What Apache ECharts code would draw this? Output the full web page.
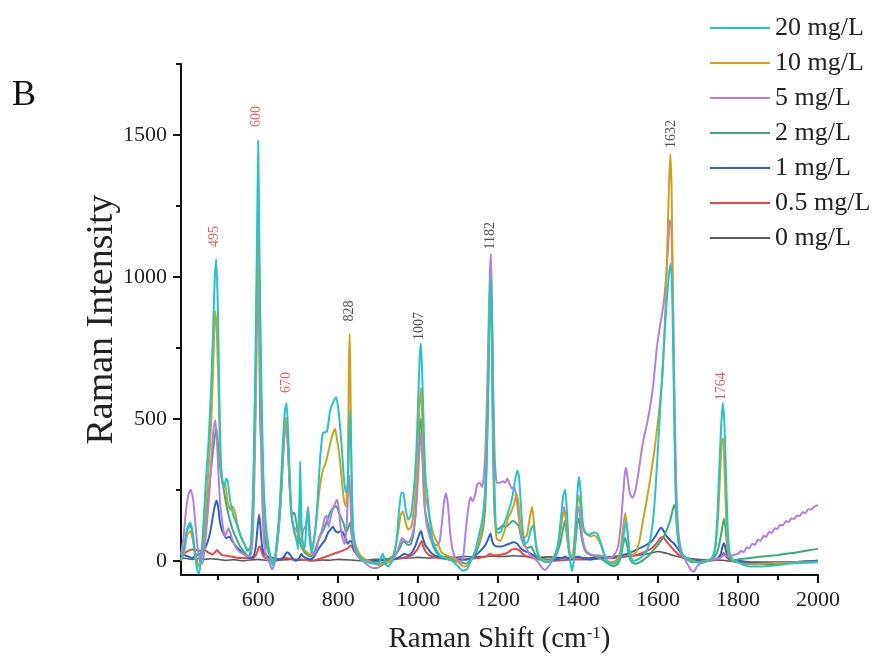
<!DOCTYPE html>
<html>
<head>
<meta charset="utf-8">
<script src="https://cdn.jsdelivr.net/npm/echarts@6/dist/echarts.min.js"></script>
<style>
  html, body { margin: 0; padding: 0; background: #fff; }
  #chart { width: 876px; height: 666px; }
</style>
</head>
<body>
<div id="chart"></div>
<script>
// legend order (top to bottom)
const concentrations = ['20 mg/L', '10 mg/L', '5 mg/L', '2 mg/L', '1 mg/L', '0.5 mg/L', '0 mg/L']
const colors = ['#22c5c9', '#d2a11c', '#b27fe2', '#3bae76', '#2f62c9', '#ec4646', '#5a5a5a']

const xMajorTicks = [600, 800, 1000, 1200, 1400, 1600, 1800, 2000]
const xMinorTicks = [500, 700, 900, 1100, 1300, 1500, 1700, 1900]
const yMajorTicks = [0, 500, 1000, 1500]
const yMinorTicks = [250, 750, 1250, 1750]

// peak annotations: [shift, label position (intensity), text, colour]
const peakLabels = [
  [491, 1142, '495', '#e8322c'],
  [596, 1565, '600', '#e8322c'],
  [671, 628, '670', '#e8322c'],
  [827, 880, '828', '#222'],
  [1002, 827, '1007', '#222'],
  [1180, 1145, '1182', '#222'],
  [1633, 1503, '1632', '#222'],
  [1757, 615, '1764', '#e8322c']
]

// spectra, [Raman shift, intensity]
const s20 = [[407,5],[415,40],[422,110],[430,135],[436,100],[442,20],[448,-35],[452,-45],[458,20],[464,150],[470,300],[476,420],[482,600],[487,800],[491,980],[495,1062],[499,900],[502,650],[506,380],[510,290],[515,260],[520,290],[524,280],[530,210],[538,160],[546,130],[555,90],[565,60],[573,35],[580,40],[585,150],[588,300],[592,600],[595,900],[598,1250],[600,1480],[602,1250],[605,900],[609,550],[613,300],[618,150],[625,60],[631,10],[636,-15],[642,10],[650,120],[656,250],[662,420],[667,530],[671,555],[675,450],[679,300],[684,150],[690,110],[695,80],[700,40],[703,200],[705,350],[708,150],[712,60],[716,40],[720,120],[724,185],[728,90],[733,30],[738,60],[744,120],[750,250],[756,380],[762,450],[772,455],[780,530],[788,560],[795,576],[800,540],[805,470],[810,380],[815,280],[820,240],[824,260],[827,400],[830,530],[833,350],[837,120],[842,50],[850,20],[860,5],[875,-5],[890,-10],[900,-10],[907,10],[912,25],[918,-10],[925,-20],[935,0],[945,60],[952,170],[958,240],[963,240],[968,190],[975,145],[982,160],[988,230],[992,300],[996,400],[1000,560],[1004,720],[1007,766],[1011,620],[1015,420],[1019,280],[1023,235],[1028,160],[1035,80],[1045,40],[1055,20],[1070,10],[1085,0],[1100,-20],[1112,-35],[1122,-30],[1132,0],[1142,30],[1152,90],[1160,140],[1165,200],[1169,280],[1173,430],[1177,720],[1180,930],[1182,1000],[1185,820],[1188,480],[1192,200],[1197,100],[1205,100],[1215,130],[1225,170],[1235,220],[1242,280],[1248,318],[1252,300],[1256,220],[1262,100],[1268,60],[1275,70],[1282,110],[1288,125],[1294,60],[1300,20],[1310,0],[1325,-5],[1340,10],[1350,60],[1357,150],[1363,230],[1368,250],[1373,150],[1378,30],[1385,-35],[1391,20],[1396,180],[1400,270],[1403,295],[1407,230],[1412,130],[1418,100],[1425,90],[1432,95],[1440,100],[1448,95],[1455,70],[1462,40],[1470,5],[1480,-10],[1490,-10],[1500,0],[1508,30],[1514,90],[1520,145],[1525,80],[1530,20],[1540,0],[1550,5],[1560,15],[1570,30],[1580,70],[1590,180],[1600,400],[1610,650],[1620,880],[1628,1020],[1632,1047],[1636,900],[1640,550],[1644,250],[1648,110],[1655,40],[1665,15],[1680,5],[1695,-5],[1710,-5],[1725,0],[1735,10],[1742,40],[1748,150],[1753,320],[1758,480],[1762,556],[1766,480],[1770,300],[1774,120],[1779,30],[1786,5],[1800,-5],[1815,-15],[1830,-20],[1850,-20],[1875,-18],[1900,-15],[1925,-10],[1950,-8],[1975,-5],[2000,-5]]

const s10 = [[407,0],[415,30],[422,90],[430,105],[437,70],[444,10],[450,-20],[456,0],[463,80],[470,200],[477,350],[483,500],[488,700],[492,880],[496,820],[500,650],[504,420],[508,300],[513,260],[518,270],[523,210],[530,180],[536,190],[541,175],[548,130],[556,90],[565,60],[575,40],[581,50],[586,150],[589,280],[593,550],[596,820],[598,1050],[600,1220],[602,1050],[605,760],[609,460],[613,250],[618,120],[625,50],[632,10],[640,0],[648,80],[655,200],[661,360],[666,470],[670,505],[674,430],[678,300],[683,170],[690,100],[697,70],[702,140],[705,210],[708,90],[714,40],[722,30],[730,20],[738,60],[746,150],[754,260],[762,320],[770,350],[778,400],[785,440],[792,465],[798,420],[804,360],[810,270],[815,210],[820,190],[824,300],[827,700],[829,800],[831,600],[834,250],[838,100],[845,50],[855,20],[868,5],[885,-5],[900,-15],[915,-10],[930,0],[942,40],[950,100],[956,160],[962,175],[968,140],[975,110],[983,120],[990,190],[995,280],[999,400],[1003,540],[1007,610],[1011,480],[1015,320],[1019,220],[1023,200],[1028,160],[1035,110],[1042,80],[1050,60],[1058,30],[1070,20],[1085,10],[1100,-5],[1115,-20],[1125,-15],[1135,10],[1145,40],[1155,80],[1162,130],[1167,220],[1171,380],[1175,650],[1178,880],[1181,1000],[1184,850],[1187,500],[1191,200],[1196,80],[1205,70],[1215,100],[1225,150],[1232,170],[1240,200],[1246,235],[1251,200],[1257,110],[1264,80],[1272,90],[1279,150],[1285,190],[1290,130],[1296,50],[1305,10],[1320,0],[1335,5],[1348,40],[1356,110],[1362,160],[1367,175],[1372,110],[1378,30],[1385,10],[1392,100],[1397,190],[1401,230],[1405,200],[1410,130],[1416,100],[1424,95],[1432,85],[1440,90],[1448,80],[1456,60],[1463,30],[1470,5],[1480,-5],[1495,0],[1505,30],[1512,110],[1518,168],[1523,110],[1528,40],[1535,20],[1545,30],[1555,80],[1562,140],[1570,200],[1580,285],[1590,380],[1598,470],[1605,560],[1611,650],[1616,800],[1621,1000],[1625,1200],[1628,1350],[1631,1432],[1634,1300],[1637,950],[1641,500],[1645,200],[1650,80],[1658,30],[1670,10],[1685,0],[1700,-5],[1720,0],[1735,10],[1743,40],[1750,150],[1755,300],[1759,420],[1762,432],[1765,380],[1769,200],[1773,70],[1779,15],[1790,0],[1810,-10],[1840,-12],[1870,-10],[1900,-8],[1940,-5],[1970,-5],[2000,-3]]

const s5 = [[407,20],[413,80],[419,170],[425,230],[431,250],[437,220],[443,130],[449,40],[455,-5],[461,-10],[467,60],[473,150],[479,260],[484,380],[489,470],[493,495],[497,420],[501,300],[505,200],[509,150],[513,110],[517,85],[521,100],[526,115],[531,95],[537,70],[545,45],[555,30],[568,20],[580,15],[586,80],[590,250],[594,550],[597,850],[600,1000],[603,820],[606,500],[610,220],[615,60],[622,10],[629,-10],[635,-30],[641,-10],[648,60],[655,180],[661,330],[666,450],[670,470],[674,400],[678,280],[683,170],[689,120],[695,110],[701,90],[707,70],[713,110],[718,120],[722,150],[725,190],[728,130],[732,60],[738,20],[744,30],[752,80],[760,110],[766,150],[771,160],[776,120],[781,150],[786,180],[792,200],[797,215],[801,190],[806,120],[811,80],[816,60],[821,120],[825,250],[828,300],[831,200],[835,90],[842,40],[852,10],[865,-5],[878,-20],[888,-25],[898,-25],[910,-15],[925,-5],[940,10],[952,50],[960,80],[968,70],[976,65],[985,90],[993,150],[998,250],[1003,380],[1007,450],[1011,360],[1015,230],[1020,140],[1026,100],[1032,75],[1040,60],[1048,55],[1054,70],[1060,140],[1065,210],[1070,238],[1075,190],[1080,100],[1086,40],[1093,10],[1100,0],[1108,-5],[1114,30],[1120,120],[1126,190],[1131,225],[1136,210],[1142,230],[1148,270],[1154,275],[1160,260],[1165,310],[1169,420],[1173,620],[1177,880],[1180,1030],[1182,1082],[1185,900],[1188,600],[1192,350],[1197,275],[1205,275],[1212,280],[1218,275],[1223,290],[1229,270],[1235,255],[1240,262],[1246,220],[1252,150],[1258,90],[1265,60],[1272,40],[1280,20],[1290,10],[1300,-5],[1310,-25],[1318,-32],[1326,-20],[1335,0],[1345,30],[1353,80],[1360,150],[1365,190],[1370,140],[1376,50],[1383,10],[1390,30],[1396,130],[1400,190],[1404,170],[1410,90],[1418,40],[1428,25],[1440,20],[1452,20],[1465,15],[1478,10],[1490,20],[1500,50],[1507,130],[1513,240],[1517,310],[1520,327],[1524,290],[1530,235],[1536,222],[1542,240],[1550,300],[1558,380],[1564,430],[1572,480],[1580,541],[1588,620],[1597,750],[1604,820],[1610,870],[1616,930],[1621,1020],[1625,1100],[1629,1200],[1633,1180],[1637,950],[1641,600],[1645,300],[1650,120],[1656,50],[1665,10],[1675,-15],[1684,-35],[1690,-38],[1697,-20],[1705,-10],[1715,-5],[1725,0],[1740,5],[1755,10],[1765,20],[1775,15],[1790,20],[1800,25],[1808,35],[1814,30],[1822,48],[1828,44],[1836,60],[1842,56],[1850,75],[1856,70],[1864,88],[1870,84],[1878,102],[1884,98],[1892,115],[1898,112],[1906,128],[1912,124],[1920,140],[1926,136],[1934,150],[1940,147],[1948,160],[1954,157],[1962,172],[1968,168],[1976,182],[1982,180],[1990,190],[2000,197]]

const s2 = [[407,0],[414,40],[421,100],[428,125],[434,110],[440,50],[446,0],[452,-20],[458,10],[465,90],[472,180],[479,280],[485,360],[490,420],[495,470],[499,420],[503,350],[508,300],[514,250],[520,200],[528,150],[536,110],[545,80],[555,50],[566,30],[576,15],[582,40],[586,130],[590,350],[594,700],[597,1000],[600,1160],[602,950],[604,600],[606,420],[608,440],[610,330],[613,160],[618,70],[626,30],[635,5],[642,10],[649,80],[656,200],[662,360],[667,470],[671,485],[675,400],[679,260],[684,160],[690,170],[695,140],[701,80],[708,50],[716,30],[724,20],[732,15],[740,30],[748,60],[756,90],[764,110],[772,140],[780,170],[787,185],[795,192],[802,170],[808,150],[814,130],[820,100],[826,120],[830,135],[834,90],[840,50],[850,20],[862,5],[875,-5],[890,-8],[905,-10],[920,0],[935,15],[948,30],[956,50],[962,70],[968,65],[975,55],[982,60],[989,100],[995,200],[1000,360],[1004,480],[1007,500],[1010,420],[1013,280],[1017,180],[1022,145],[1030,90],[1038,50],[1048,25],[1060,10],[1075,5],[1090,0],[1105,-5],[1120,-10],[1135,10],[1145,30],[1155,70],[1162,110],[1167,170],[1171,320],[1175,620],[1178,850],[1181,980],[1184,800],[1187,420],[1191,170],[1196,110],[1205,115],[1212,125],[1220,120],[1228,130],[1236,140],[1244,135],[1252,120],[1258,80],[1265,55],[1273,45],[1282,50],[1290,30],[1300,10],[1315,0],[1330,0],[1345,20],[1355,60],[1362,110],[1367,140],[1372,90],[1378,30],[1386,10],[1393,60],[1398,130],[1402,150],[1406,110],[1412,60],[1420,30],[1432,20],[1445,15],[1460,5],[1470,-5],[1480,-15],[1490,-18],[1500,-10],[1508,20],[1513,60],[1518,80],[1523,50],[1529,10],[1535,-5],[1545,-10],[1555,-5],[1565,5],[1578,20],[1590,40],[1602,60],[1612,80],[1622,110],[1630,140],[1636,175],[1640,197],[1644,180],[1648,110],[1653,50],[1660,20],[1672,5],[1685,-5],[1700,-5],[1715,0],[1730,5],[1742,15],[1750,40],[1756,80],[1761,120],[1765,148],[1769,110],[1773,50],[1778,15],[1786,0],[1800,5],[1820,8],[1840,12],[1860,15],[1880,18],[1900,20],[1920,25],[1940,28],[1960,33],[1980,38],[2000,42]]

const s1 = [[407,10],[415,20],[425,15],[435,10],[445,20],[455,25],[465,40],[472,60],[480,100],[486,150],[491,190],[496,212],[500,190],[504,140],[509,110],[514,95],[520,80],[528,85],[535,70],[545,50],[556,35],[568,20],[580,10],[588,15],[594,50],[598,110],[602,162],[605,130],[609,60],[615,25],[625,15],[640,10],[655,5],[665,15],[672,30],[678,25],[685,10],[695,0],[703,10],[708,25],[713,15],[720,10],[730,5],[740,15],[750,40],[760,60],[768,75],[775,100],[781,110],[787,120],[793,105],[800,100],[806,105],[812,100],[818,80],[824,60],[830,70],[835,65],[840,40],[848,20],[860,5],[880,0],[900,0],[920,5],[940,5],[955,15],[965,25],[975,20],[985,30],[995,60],[1002,90],[1007,105],[1012,80],[1018,55],[1026,40],[1035,25],[1048,15],[1065,10],[1080,5],[1100,5],[1120,5],[1140,15],[1152,30],[1162,45],[1170,60],[1176,80],[1181,95],[1185,70],[1190,55],[1198,50],[1208,50],[1218,55],[1228,60],[1238,65],[1248,60],[1256,45],[1265,35],[1275,30],[1288,20],[1300,10],[1320,5],[1340,5],[1360,10],[1368,15],[1380,5],[1400,15],[1410,10],[1430,5],[1450,10],[1470,10],[1490,15],[1510,20],[1525,25],[1540,35],[1555,45],[1570,55],[1585,70],[1595,90],[1603,110],[1608,116],[1614,105],[1622,85],[1632,70],[1640,60],[1648,45],[1658,25],[1670,10],[1685,0],[1700,0],[1720,0],[1740,5],[1750,10],[1757,25],[1762,55],[1765,62],[1769,40],[1774,15],[1782,5],[1800,0],[1830,-5],[1860,-5],[1900,-5],[1950,-3],[2000,0]]

const s05 = [[407,10],[415,25],[425,35],[435,40],[445,38],[455,35],[465,38],[475,30],[485,22],[492,30],[497,38],[502,30],[510,20],[520,18],[535,15],[550,10],[570,10],[588,10],[596,25],[601,45],[605,50],[609,30],[615,12],[630,8],[650,5],[670,10],[690,5],[710,5],[730,0],[750,5],[770,15],[790,25],[810,35],[825,45],[832,55],[838,40],[848,20],[860,8],[880,0],[900,0],[930,5],[960,10],[985,20],[998,40],[1005,60],[1009,70],[1013,50],[1020,30],[1035,15],[1060,8],[1090,5],[1120,5],[1150,10],[1170,15],[1180,25],[1186,20],[1195,20],[1210,22],[1225,30],[1235,40],[1245,42],[1255,35],[1265,20],[1280,12],[1300,5],[1330,0],[1360,2],[1380,5],[1400,5],[1430,5],[1460,8],[1490,10],[1520,15],[1545,20],[1565,30],[1585,45],[1598,65],[1606,80],[1612,84],[1620,70],[1632,50],[1645,30],[1660,12],[1680,3],[1700,0],[1730,0],[1750,5],[1758,15],[1764,28],[1770,15],[1780,3],[1800,-5],[1840,-10],[1880,-8],[1920,-5],[1960,-3],[2000,0]]

const s0 = [[407,10],[420,8],[435,5],[450,8],[465,5],[480,7],[500,5],[520,2],[540,4],[560,0],[580,3],[600,5],[620,2],[640,0],[660,3],[680,5],[700,2],[720,4],[740,0],[760,3],[780,2],[800,5],[830,3],[860,0],[890,5],[920,6],[950,8],[980,10],[1000,12],[1030,10],[1060,14],[1090,12],[1120,15],[1150,14],[1180,16],[1210,15],[1240,18],[1270,15],[1300,12],[1330,14],[1360,10],[1390,12],[1420,10],[1450,12],[1480,14],[1510,15],[1540,18],[1565,22],[1585,28],[1600,33],[1610,30],[1625,25],[1640,18],[1660,12],[1680,8],[1700,5],[1730,3],[1760,2],[1790,-3],[1820,-8],[1850,-10],[1880,-12],[1910,-10],[1940,-8],[1970,-6],[2000,-5]]

const spectra = [s20, s10, s5, s2, s1, s05, s0]

const serif = 'Liberation Serif, Times New Roman, serif'

const chart = echarts.init(document.getElementById('chart'), null, { renderer: 'canvas' })

// draw 0 mg/L first so that 20 mg/L ends up on top
const lineSeries = []
for (let i = spectra.length - 1; i >= 0; i--) {
  lineSeries.push({
    name: concentrations[i],
    type: 'line',
    data: spectra[i],
    symbol: 'none',
    showSymbol: false,
    smooth: 0.2,
    lineStyle: { width: i === 6 ? 1.6 : 2, color: colors[i] },
    itemStyle: { color: colors[i] },
    emphasis: { disabled: true },
    z: 2
  })
}

const plainNumber = v => String(v)

const option = {
  backgroundColor: '#fff',
  animation: false,
  graphic: [
    {
      type: 'text',
      left: 12,
      top: 78,
      style: { text: 'B', font: '36px ' + serif, fill: '#111' }
    }
  ],
  legend: {
    data: concentrations,
    orient: 'vertical',
    left: 705,
    top: 10,
    icon: 'rect',
    itemWidth: 60,
    itemHeight: 2,
    itemGap: 9,
    textStyle: { fontSize: 26, lineHeight: 24, fontFamily: serif, color: '#222' }
  },
  grid: {
    left: 181,
    right: 58,
    top: 64,
    bottom: 91,
    outerBoundsMode: 'none'
  },
  xAxis: [
    {
      type: 'value',
      min: 407,
      max: 2000,
      name: 'Raman Shift (cm{sup|-1})',
      nameLocation: 'middle',
      nameGap: 50,
      nameMoveOverlap: false,
      nameTextStyle: {
        fontSize: 29,
        fontFamily: serif,
        color: '#222',
        rich: { sup: { fontSize: 17, fontFamily: serif, color: '#222', verticalAlign: 'top' } }
      },
      axisLine: { show: true, onZero: false, lineStyle: { color: '#111', width: 2 } },
      axisTick: { show: true, length: 8, customValues: xMajorTicks, lineStyle: { color: '#111', width: 2 } },
      axisLabel: { customValues: xMajorTicks, margin: 14, fontSize: 22, fontFamily: serif, color: '#222', formatter: plainNumber },
      splitLine: { show: false }
    },
    {
      type: 'value',
      position: 'bottom',
      min: 407,
      max: 2000,
      axisLine: { show: false, onZero: false },
      axisTick: { show: true, length: 5, customValues: xMinorTicks, lineStyle: { color: '#111', width: 2 } },
      axisLabel: { show: false },
      splitLine: { show: false }
    }
  ],
  yAxis: [
    {
      type: 'value',
      min: -50,
      max: 1750,
      name: 'Raman Intensity',
      nameLocation: 'middle',
      nameGap: 60,
      nameMoveOverlap: false,
      nameTextStyle: { fontSize: 38, fontFamily: serif, color: '#222' },
      axisLine: { show: true, onZero: false, lineStyle: { color: '#111', width: 2 } },
      axisTick: { show: true, length: 8, customValues: yMajorTicks, lineStyle: { color: '#111', width: 2 } },
      axisLabel: { customValues: yMajorTicks, margin: 14, fontSize: 22, fontFamily: serif, color: '#222', formatter: plainNumber },
      splitLine: { show: false }
    },
    {
      type: 'value',
      position: 'left',
      min: -50,
      max: 1750,
      axisLine: { show: false, onZero: false },
      axisTick: { show: true, length: 5, customValues: yMinorTicks, lineStyle: { color: '#111', width: 2 } },
      axisLabel: { show: false },
      splitLine: { show: false }
    }
  ],
  series: lineSeries.concat([
    {
      type: 'scatter',
      silent: true,
      symbolSize: 1,
      itemStyle: { color: 'rgba(0,0,0,0)' },
      data: peakLabels.map(p => ({
        value: [p[0], p[1]],
        name: p[2],
        label: { color: p[3] }
      })),
      label: {
        show: true,
        position: 'inside',
        rotate: 90,
        formatter: '{b}',
        fontSize: 14,
        fontFamily: serif
      },
      z: 5
    }
  ])
}

chart.setOption(option)
</script>
</body>
</html>
